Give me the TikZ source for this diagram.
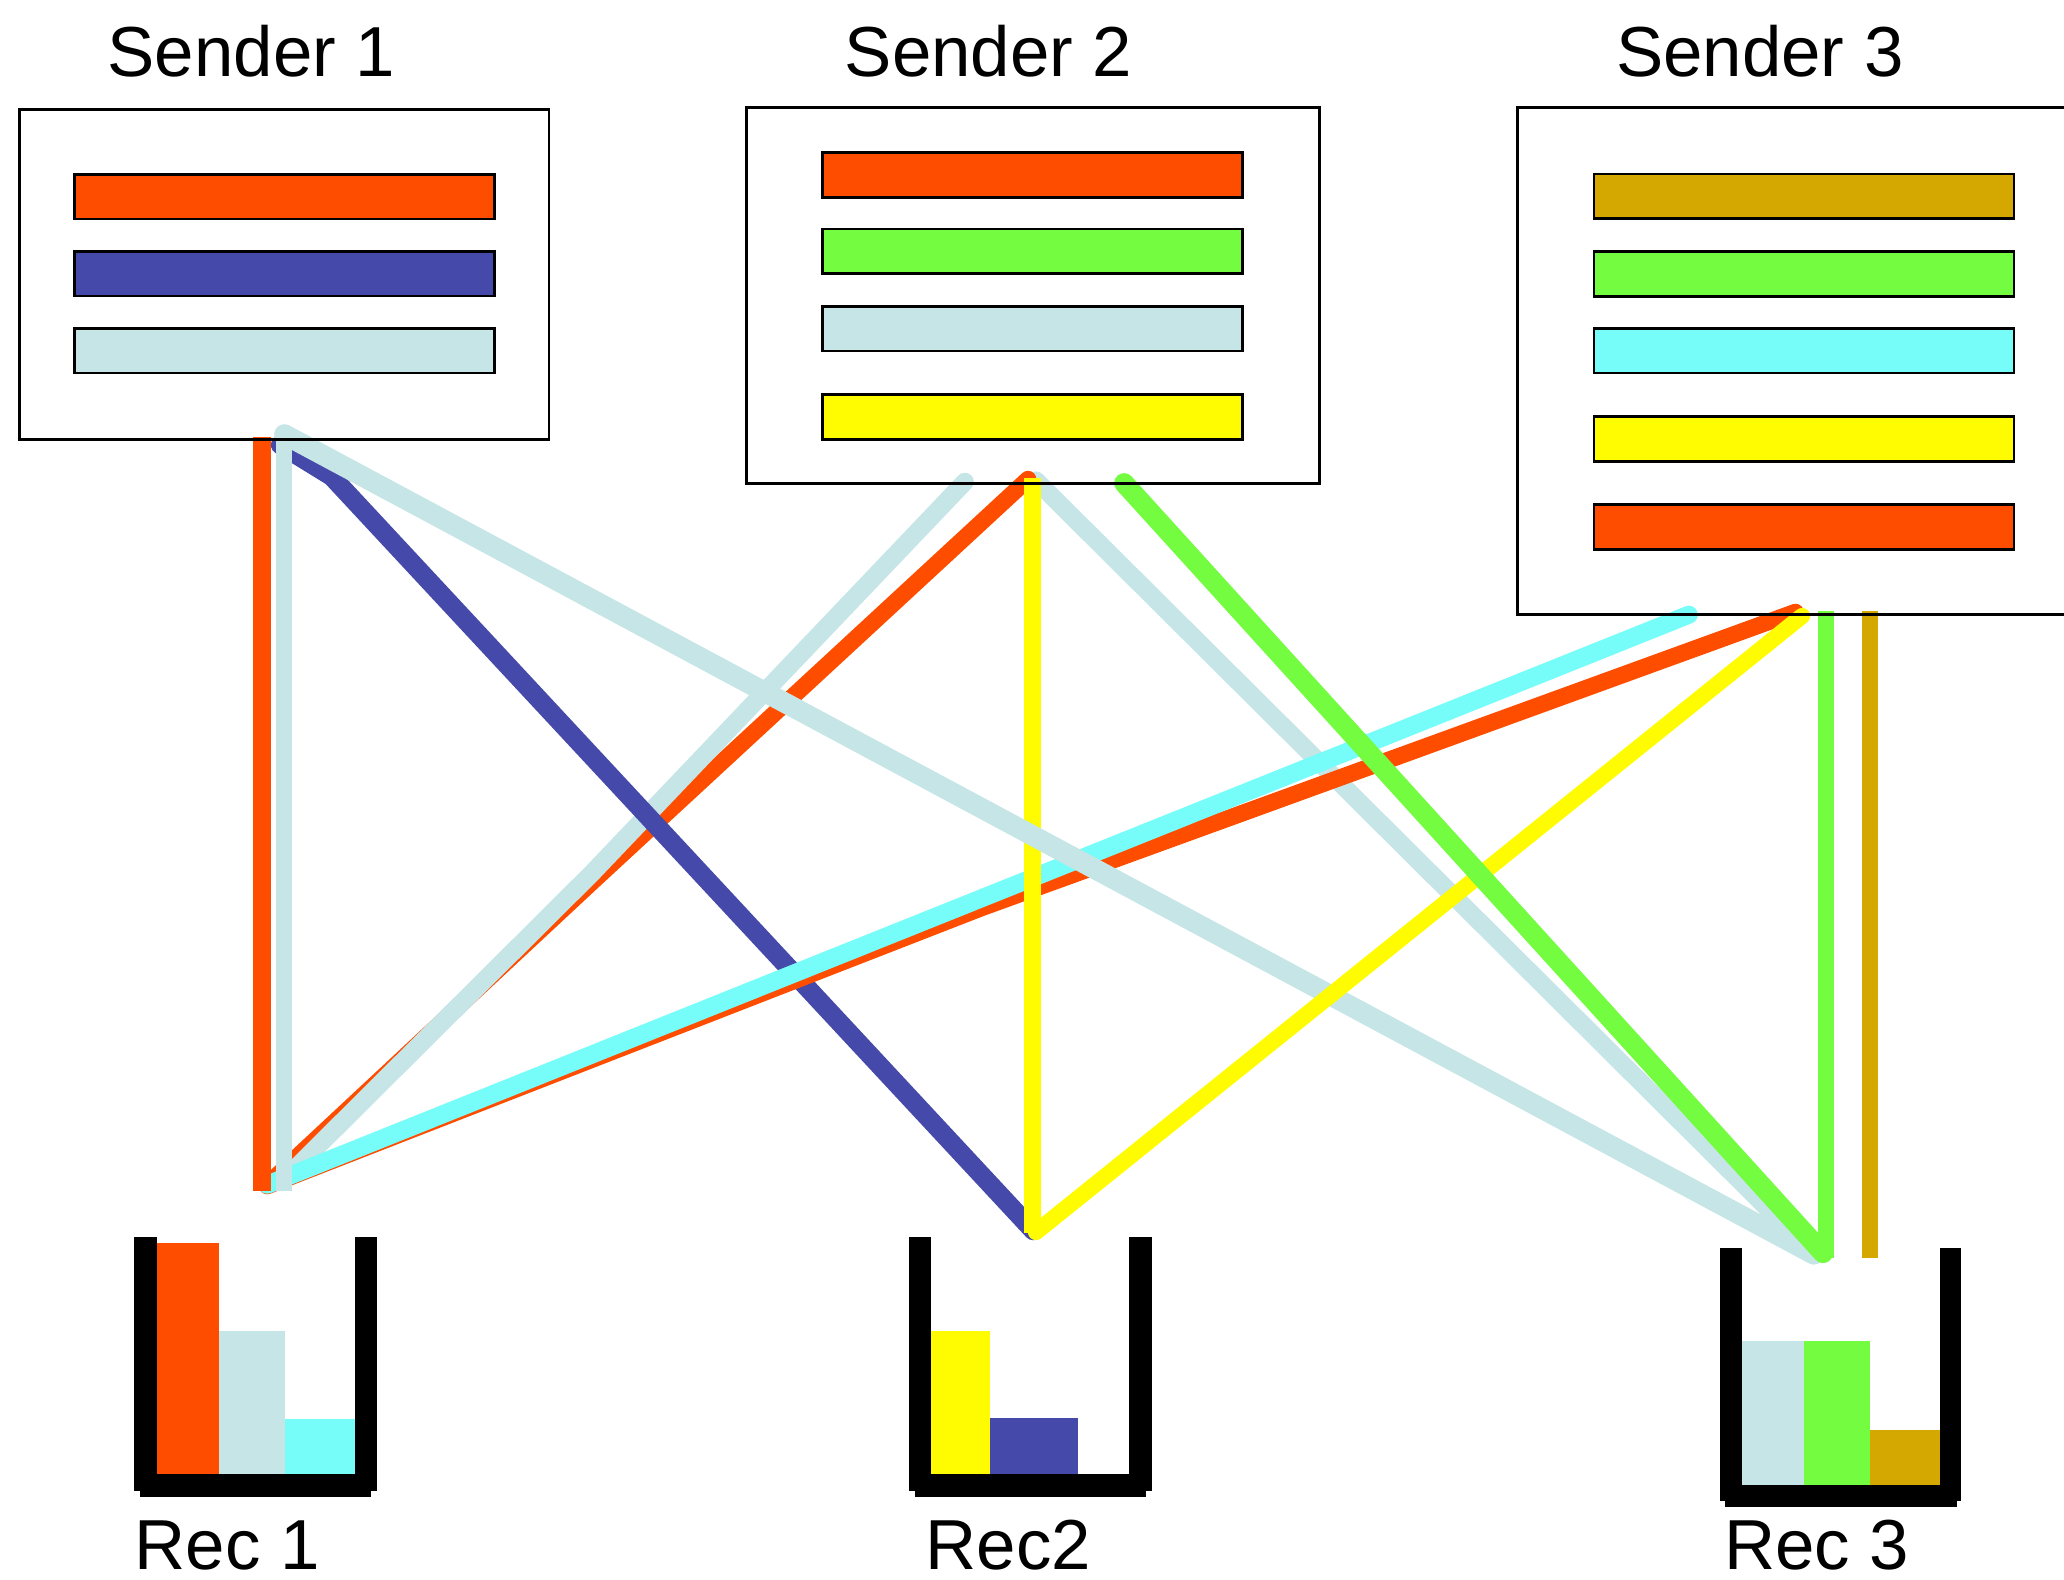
\documentclass[tikz,border=0pt]{standalone}
\usepackage{fontspec}
\setmainfont{Liberation Sans}
\definecolor{cOrange}{RGB}{255,77,0}
\definecolor{cBlue}{RGB}{69,73,170}
\definecolor{cPale}{RGB}{198,229,231}
\definecolor{cGreen}{RGB}{116,252,64}
\definecolor{cYellow}{RGB}{255,251,0}
\definecolor{cCyan}{RGB}{118,253,250}
\definecolor{cTan}{RGB}{212,168,0}
\begin{document}
\begin{tikzpicture}[x=0.01cm,y=-0.01cm,
  sbox/.style={draw=black, line width=0.6pt, inner sep=0pt},
  bar/.style={draw=black, line width=0.6pt, inner sep=0pt, minimum width=3.19cm, minimum height=0.34cm},
  link/.style={line width=3.9pt, line cap=round, line join=round},
  vlink/.style={line width=3.6pt, line cap=butt},
  lbl/.style={font=\fontsize{15.3}{18}\selectfont, anchor=base, inner sep=0pt},
  wall/.style={fill=black},
]
\useasboundingbox (0,0) rectangle (1568,1200);

% ---- connector end points ----
% sender 1
\coordinate (s1o) at (199,332);
\coordinate (s1p) at (216,330);
\coordinate (s1b) at (213,338);
\coordinate (s1k) at (252,362);
% sender 2
\coordinate (s2pl) at (733,366);
\coordinate (s2o)  at (781,364);
\coordinate (s2y)  at (784.6,363);
\coordinate (s2pr) at (787,365);
\coordinate (s2g)  at (854,367);
\coordinate (s2pm) at (450,663);
\coordinate (s2om) at (452,668);
% sender 3
\coordinate (s3c) at (1283,467);
\coordinate (s3o) at (1364,465);
\coordinate (s3om) at (745,690);
\coordinate (s3y) at (1369,468);
\coordinate (s3g) at (1387.3,464);
\coordinate (s3t) at (1420.7,464);
% receiver 1
\coordinate (r1o) at (199,905);
\coordinate (r1p) at (216,905);
\coordinate (r1a) at (214,898);
\coordinate (r1b) at (203,900);
\coordinate (r1c) at (203,901);
% receiver 2
\coordinate (r2b) at (785,935);
\coordinate (r2y) at (784.6,937);
\coordinate (r2z) at (787,936);
% receiver 3
\coordinate (r3p) at (1378,953);
\coordinate (r3g) at (1385,952);
\coordinate (r3v) at (1387.3,956);
\coordinate (r3t) at (1420.7,956);

% ---- connectors ----
\draw[link, cPale] (s2pr) -- (r3p);
\draw[link, cOrange, line width=3.6pt] (s2o) -- (s2om) -- (r1b);
\draw[link, cPale] (s2pl) -- (s2pm) -- (r1a);
\draw[link, cBlue, line width=4.1pt] (s1b) -- (s1k) -- (r2b);
\draw[link, cOrange, line width=3.6pt] (s3o) -- (s3om) -- (r1c);
\draw[link, cCyan] (s3c) -- (r1b);
\draw[vlink, cYellow] (s2y) -- (r2y);
\draw[link, cPale, line width=4.4pt] (s1p) -- (r3p);
\draw[link, cYellow, line width=3.5pt] (s3y) -- (r2z);
\draw[link, cGreen, line width=4.3pt] (s2g) -- (r3g);
\draw[vlink, cGreen, line width=3.4pt] (s3g) -- (r3v);
\draw[vlink, cTan, line width=3.4pt] (s3t) -- (r3t);
\draw[vlink, cOrange, line width=3.7pt] (s1o) -- (r1o);
\draw[vlink, cPale, line width=3.4pt] (s1p) -- (r1p);

% ---- senders ----
\node[sbox, minimum width=4.02cm, minimum height=2.51cm] (S1) at (216,208.5) {};
\node[bar, fill=cOrange] (S1a) at (216,149.4) {};
\node[bar, fill=cBlue]   (S1b) at (216,207.9) {};
\node[bar, fill=cPale]   (S1c) at (216,266.3) {};
\node[lbl] (L1) at (191,58.3) {Sender 1};

\node[sbox, minimum width=4.35cm, minimum height=2.85cm] (S2) at (784.5,224.5) {};
\node[bar, fill=cOrange] (S2a) at (784.5,132.8) {};
\node[bar, fill=cGreen]  (S2b) at (784.5,191) {};
\node[bar, fill=cPale]   (S2c) at (784.5,249.7) {};
\node[bar, fill=cYellow] (S2d) at (784.5,316.7) {};
\node[lbl] (L2) at (751,58.3) {Sender 2};

\node[sbox, minimum width=4.47cm, minimum height=3.85cm] (S3) at (1376.5,274.5) {};
\node[bar, fill=cTan]    (S3a) at (1370.5,149.2) {};
\node[bar, fill=cGreen]  (S3b) at (1370.5,208.2) {};
\node[bar, fill=cCyan]   (S3c) at (1370.5,266.4) {};
\node[bar, fill=cYellow] (S3d) at (1370.5,333.4) {};
\node[bar, fill=cOrange] (S3e) at (1370.5,400.2) {};
\node[lbl] (L3) at (1337,58.3) {Sender 3};

% ---- receivers: queued packets and bucket walls ----
% receiver 1
\fill[cOrange] (119,944) rectangle (166.4,1120);
\fill[cPale]   (166.4,1011) rectangle (216.5,1120);
\fill[cCyan]   (216.5,1078) rectangle (270,1120);
\fill[wall] (102,940) rectangle (119,1132.5);
\fill[wall] (270,940) rectangle (286.5,1132.5);
\fill[wall] (106.5,1120) rectangle (282,1137);
\node[lbl] (R1) at (172.5,1192) {Rec 1};

% receiver 2
\fill[cYellow] (707,1011) rectangle (752,1120);
\fill[cBlue]   (752,1077) rectangle (818.7,1120);
\fill[wall] (690.6,940) rectangle (707,1132.5);
\fill[wall] (858,940) rectangle (875,1132.5);
\fill[wall] (695,1120) rectangle (870.6,1137);
\node[lbl] (R2) at (766,1192) {Rec2};

% receiver 3
\fill[cPale]  (1323,1019) rectangle (1370.5,1128);
\fill[cGreen] (1370.5,1019) rectangle (1420.5,1128);
\fill[cTan]   (1420.5,1086) rectangle (1474,1128);
\fill[wall] (1306.7,948) rectangle (1323,1140);
\fill[wall] (1474,948) rectangle (1490,1140);
\fill[wall] (1310.5,1128) rectangle (1486.5,1145);
\node[lbl] (R3) at (1380,1192) {Rec 3};
\end{tikzpicture}
\end{document}
